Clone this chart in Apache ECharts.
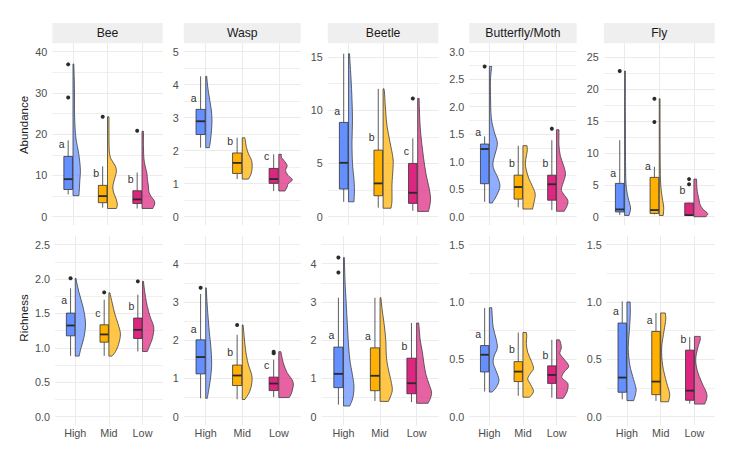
<!DOCTYPE html>
<html><head><meta charset="utf-8">
<script src="https://cdn.jsdelivr.net/npm/echarts@6/dist/echarts.min.js"></script>
<style>html,body{margin:0;padding:0;background:#fff}#c{width:749px;height:464px}</style>
</head><body><div id="c"></div>
<script>
const groups = ['High', 'Mid', 'Low'];
const taxa = ['Bee', 'Wasp', 'Beetle', 'Butterfly/Moth', 'Fly'];
const metrics = ['Abundance', 'Richness'];

// y scale limits (before ggplot's 5% expansion)
const abundanceLimits = [[0, 40], [0, 5], [0, 15.5], [0, 3], [0, 25.9]];
const richnessLimits = [[0, 2.5], [0, 4.5], [0, 4.5], [0, 1.5], [0, 1.5]];

const abundanceTicks = [
  ['0', '10', '20', '30', '40'],
  ['0', '1', '2', '3', '4', '5'],
  ['0', '5', '10', '15'],
  ['0.0', '0.5', '1.0', '1.5', '2.0', '2.5', '3.0'],
  ['0', '5', '10', '15', '20', '25']
];
const richnessTicks = [
  ['0.0', '0.5', '1.0', '1.5', '2.0', '2.5'],
  ['0', '1', '2', '3', '4'],
  ['0', '1', '2', '3', '4'],
  ['0.0', '0.5', '1.0', '1.5'],
  ['0.0', '0.5', '1.0', '1.5']
];

// box stats: [lower whisker, Q1, median, Q3, upper whisker] for High, Mid, Low
const abundanceBoxes = [
  [[5.4, 6.6, 9.1, 14.6, 18.5], [2.2, 3.4, 5.0, 7.6, 12.2], [2.0, 3.2, 4.2, 6.3, 10.7]],
  [[2.09, 2.49, 2.89, 3.25, 4.25], [1.14, 1.31, 1.63, 1.93, 2.39], [0.78, 1.01, 1.14, 1.46, 1.89]],
  [[1.4, 2.6, 5.06, 8.85, 15.3], [0.85, 1.97, 3.13, 6.25, 12.0], [0.56, 1.25, 2.25, 5.0, 7.35]],
  [[0.27, 0.60, 1.23, 1.32, 1.46], [0.17, 0.32, 0.54, 0.755, 1.29], [0.12, 0.30, 0.59, 0.755, 1.39]],
  [[0.27, 0.75, 1.15, 5.23, 12.0], [0.37, 0.52, 1.05, 6.17, 7.85], [0.2, 0.2, 0.25, 2.15, 2.2]]
];
const richnessBoxes = [
  [[0.884, 1.175, 1.325, 1.505, 1.865], [0.884, 1.083, 1.195, 1.335, 1.70], [0.947, 1.136, 1.262, 1.433, 1.772]],
  [[0.48, 1.12, 1.56, 2.01, 3.21], [0.456, 0.815, 1.077, 1.35, 2.14], [0.51, 0.683, 0.867, 1.035, 1.49]],
  [[0.315, 0.76, 1.12, 1.82, 3.11], [0.41, 0.68, 1.07, 1.80, 3.11], [0.38, 0.60, 0.875, 1.53, 2.45]],
  [[0.219, 0.39, 0.54, 0.62, 0.947], [0.183, 0.306, 0.393, 0.48, 0.734], [0.166, 0.29, 0.364, 0.443, 0.67]],
  [[0.152, 0.213, 0.341, 0.816, 1.005], [0.137, 0.192, 0.306, 0.743, 0.904], [0.114, 0.143, 0.227, 0.58, 0.694]]
];

const abundanceOutliers = [
  [[36.9, 28.9], [24.2], [20.8]],
  [[], [], []],
  [[], [], [11.1]],
  [[2.73], [], [1.60]],
  [[22.85], [18.5, 14.85], [5.9, 5.1]]
];
const richnessOutliers = [
  [[2.01], [1.806], [1.966]],
  [[3.37], [2.40], [1.66, 1.70]],
  [[4.16, 3.77], [], []],
  [[], [], []],
  [[], [], []]
];

// significance letters: [letter, y]
const abundanceLetters = [
  [['a', 17.5], ['b', 10.5], ['b', 9.1]],
  [['a', 3.6], ['b', 2.28], ['c', 1.83]],
  [['a', 9.9], ['b', 7.5], ['c', 6.2]],
  [['a', 1.53], ['b', 0.98], ['b', 0.98]],
  [['a', 6.9], ['a', 8.0], ['b', 4.2]]
];
const richnessLetters = [
  [['a', 1.69], ['c', 1.505], ['b', 1.61]],
  [['a', 2.3], ['b', 1.69], ['c', 1.36]],
  [['a', 2.14], ['a', 2.10], ['b', 1.86]],
  [['a', 0.72], ['b', 0.59], ['b', 0.54]],
  [['a', 0.92], ['a', 0.845], ['b', 0.68]]
];

// half-violin density profiles: [y, relative density]
const abundanceViolins = [
  [
    [[5.1, 6], [7, 6.5], [9, 7], [11, 7.5], [13, 7], [15, 6], [17, 4.5], [19, 3], [22, 2], [26, 1.5], [30, 1.5], [34, 1.2], [37, 0.8]],
    [[2.0, 9], [3, 10], [4.5, 8.5], [6, 6], [7.5, 5.5], [9, 7], [11, 9], [12.5, 7.5], [14, 3.5], [16, 1.8], [20, 1.5], [24.2, 1.5]],
    [[2.0, 11], [3.5, 13], [5, 9], [6, 7], [7.5, 6.5], [9, 5.5], [10.5, 5], [12, 3.5], [14, 2], [17, 1.5], [20.7, 1.5]]
  ],
  [
    [[2.09, 3.5], [2.3, 4.5], [2.6, 5.5], [2.9, 6], [3.2, 5.5], [3.5, 4], [3.8, 2.5], [4.05, 1.5], [4.25, 1]],
    [[1.14, 6], [1.3, 8.5], [1.5, 9.5], [1.7, 9], [1.9, 6], [2.1, 4], [2.3, 3], [2.39, 2.5]],
    [[0.78, 6], [0.9, 8], [1.0, 9], [1.12, 13], [1.25, 9], [1.4, 6.5], [1.55, 8], [1.7, 5], [1.8, 2.5], [1.89, 2.5]]
  ],
  [
    [[1.4, 5.5], [2.5, 6], [3.5, 5.5], [5, 4], [7, 3.5], [9, 4], [11, 3.5], [13, 2.5], [14.5, 1.5], [15.3, 1]],
    [[0.8, 8], [1.5, 9], [3, 9], [4.5, 10], [5.5, 10], [7, 7], [8.5, 4], [10, 2.5], [11.5, 1.5], [12, 1]],
    [[0.5, 11], [1.5, 13], [2.5, 12], [4, 8.5], [5.5, 6], [7, 4], [8.5, 2.5], [10, 1.8], [11.1, 1.5]]
  ],
  [
    [[0.25, 3], [0.4, 8], [0.55, 11], [0.7, 9], [0.9, 4], [1.05, 4.5], [1.2, 7], [1.35, 8.3], [1.55, 5], [1.8, 2], [2.2, 1.2], [2.5, 1.2], [2.73, 2.5]],
    [[0.14, 10], [0.3, 12], [0.42, 12.7], [0.55, 10], [0.7, 6], [0.85, 3.5], [0.97, 2.5], [1.1, 3.5], [1.2, 4.5], [1.29, 4.3]],
    [[0.1, 8], [0.2, 11], [0.3, 11.7], [0.42, 7], [0.5, 5], [0.62, 7], [0.78, 9.3], [0.95, 7], [1.1, 4], [1.3, 2.5], [1.45, 2.5], [1.58, 2.5]]
  ],
  [
    [[0.2, 4.5], [1.4, 6], [3, 3.5], [5, 1.5], [8, 1], [15, 0.8], [22.85, 0.8]],
    [[0.2, 4], [1.5, 4.5], [3, 3], [5, 1.5], [8, 1], [14, 0.8], [18.5, 0.8]],
    [[0, 12], [0.5, 14], [1.2, 9], [2, 6], [2.6, 5.3], [3.5, 4], [4.5, 3], [5.9, 2.7]]
  ]
];
const richnessViolins = [
  [
    [[0.88, 4], [1.0, 6], [1.15, 9], [1.33, 10.7], [1.5, 9.5], [1.65, 7], [1.8, 4], [1.95, 1.5], [2.01, 0.8]],
    [[0.88, 3.3], [0.95, 7], [1.05, 10], [1.2, 12], [1.35, 9.5], [1.5, 6], [1.65, 3.5], [1.8, 1]],
    [[0.947, 5], [1.05, 8], [1.15, 10.5], [1.3, 11.7], [1.45, 8], [1.6, 5], [1.75, 3], [1.9, 1.5], [1.966, 1]]
  ],
  [
    [[0.48, 1.5], [0.8, 3.5], [1.1, 5], [1.4, 5.7], [1.8, 5], [2.2, 3.5], [2.7, 2], [3.1, 1], [3.37, 0.5]],
    [[0.45, 2.5], [0.65, 7], [0.9, 9.3], [1.1, 9], [1.35, 6], [1.6, 4], [1.9, 2.5], [2.2, 1.5], [2.4, 0.8]],
    [[0.5, 10], [0.6, 12], [0.75, 13.5], [0.87, 14], [1.0, 12], [1.15, 8], [1.35, 5], [1.5, 3.5], [1.7, 2]]
  ],
  [
    [[0.28, 6], [0.5, 9], [0.8, 10], [1.1, 8.5], [1.5, 6], [2.0, 4.5], [2.5, 3.5], [3.0, 2.5], [3.5, 1.5], [4.16, 0.8]],
    [[0.4, 8], [0.6, 11], [0.75, 11.7], [1.0, 10], [1.3, 7.5], [1.6, 6], [2.0, 5.5], [2.4, 4], [2.8, 2], [3.11, 0.8]],
    [[0.35, 11], [0.5, 13.5], [0.65, 14.3], [0.85, 12], [1.1, 9], [1.4, 7], [1.7, 5.5], [2.0, 3.5], [2.3, 2.5], [2.45, 2]]
  ],
  [
    [[0.215, 3], [0.26, 7.5], [0.32, 10], [0.4, 7], [0.47, 4], [0.53, 5], [0.6, 8.3], [0.68, 7], [0.78, 4], [0.88, 3], [0.95, 2.5]],
    [[0.17, 7], [0.22, 11], [0.28, 8], [0.33, 5], [0.38, 8], [0.42, 11], [0.48, 9], [0.56, 5], [0.64, 3.5], [0.7, 4], [0.734, 3.5]],
    [[0.16, 7], [0.22, 11], [0.29, 11.7], [0.34, 5.5], [0.39, 8], [0.44, 12.7], [0.5, 8], [0.55, 3.5], [0.6, 5], [0.65, 4], [0.67, 3]]
  ],
  [
    [[0.14, 7], [0.2, 9], [0.25, 9.3], [0.35, 6], [0.45, 3], [0.6, 1.3], [0.75, 2.5], [0.9, 3.5], [1.0, 3.3]],
    [[0.13, 8], [0.2, 9.3], [0.3, 6], [0.45, 2], [0.6, 1], [0.75, 3.5], [0.85, 5.3], [0.904, 4.7]],
    [[0.11, 10.7], [0.19, 13], [0.3, 7.5], [0.4, 3], [0.5, 1.3], [0.6, 3.5], [0.67, 6], [0.70, 6]]
  ]
];

// ---------- drawing ----------
const FONT = '"Liberation Sans", Arial, sans-serif';
const boxColors = ['#648FFF', '#FFB000', '#DC267F'];
const violinColors = ['rgba(100,143,255,0.72)', 'rgba(255,176,0,0.72)', 'rgba(220,38,127,0.72)'];
const VSCALE = 1 / 35, BOX_CENTER = -0.14, BOX_HALF = 0.125, LETTER_OFFSET = -0.33;

const rows = [
  { limits: abundanceLimits, ticks: abundanceTicks, boxes: abundanceBoxes, outliers: abundanceOutliers, letters: abundanceLetters, violins: abundanceViolins,
    top: 43.3, height: 181.7, layout: [[52.3, 110.4], [183.8, 116.9], [327.8, 110.6], [469.2, 107.5], [603.8, 110.9]] },
  { limits: richnessLimits, ticks: richnessTicks, boxes: richnessBoxes, outliers: richnessOutliers, letters: richnessLetters, violins: richnessViolins,
    top: 236, height: 189.3, layout: [[55.1, 107.6], [183.8, 116.9], [321.6, 116.9], [469.2, 107.5], [606.7, 108]] }
];

function violinPath(api, cat, prof) {
  const pts = prof.map(p => api.coord([cat + p[1] * VSCALE, p[0]]));
  const b = api.coord([cat, prof[0][0]]), t = api.coord([cat, prof[prof.length - 1][0]]);
  let s = 'M' + b[0] + ',' + b[1] + 'L' + pts[0][0] + ',' + pts[0][1];
  for (let i = 0; i < pts.length - 1; i++) {
    const p0 = pts[i - 1] || pts[i], p1 = pts[i], p2 = pts[i + 1], p3 = pts[i + 2] || pts[i + 1];
    const c1 = [p1[0] + (p2[0] - p0[0]) / 6, p1[1] + (p2[1] - p0[1]) / 6];
    const c2 = [p2[0] - (p3[0] - p1[0]) / 6, p2[1] - (p3[1] - p1[1]) / 6];
    s += 'C' + c1[0] + ',' + c1[1] + ' ' + c2[0] + ',' + c2[1] + ' ' + p2[0] + ',' + p2[1];
  }
  s += 'L' + t[0] + ',' + t[1] + 'Z';
  return s;
}

function renderGroup(row, col, gi, api) {
  const cat = gi + 1;
  const st = row.boxes[col][gi];
  const cx = cat + BOX_CENTER;
  const children = [];
  children.push({ type: 'path', shape: { pathData: violinPath(api, cat, row.violins[col][gi]) },
    style: { fill: violinColors[gi], stroke: '#3d3d3d', lineWidth: 0.8 } });
  const w0 = api.coord([cx, st[0]]), q1 = api.coord([cx, st[1]]), q3 = api.coord([cx, st[3]]), w1 = api.coord([cx, st[4]]);
  children.push({ type: 'line', shape: { x1: w0[0], y1: w0[1], x2: q1[0], y2: q1[1] }, style: { stroke: '#333', lineWidth: 0.8 } });
  children.push({ type: 'line', shape: { x1: q3[0], y1: q3[1], x2: w1[0], y2: w1[1] }, style: { stroke: '#333', lineWidth: 0.8 } });
  const bl = api.coord([cx - BOX_HALF, st[3]]), br = api.coord([cx + BOX_HALF, st[1]]);
  children.push({ type: 'rect', shape: { x: bl[0], y: bl[1], width: br[0] - bl[0], height: br[1] - bl[1] },
    style: { fill: boxColors[gi], stroke: '#333', lineWidth: 0.8 } });
  const ml = api.coord([cx - BOX_HALF, st[2]]), mr = api.coord([cx + BOX_HALF, st[2]]);
  children.push({ type: 'line', shape: { x1: ml[0], y1: ml[1], x2: mr[0], y2: mr[1] }, style: { stroke: '#2a2a2a', lineWidth: 1.8 } });
  row.outliers[col][gi].forEach(v => {
    const p = api.coord([cx, v]);
    children.push({ type: 'circle', shape: { cx: p[0], cy: p[1], r: 2 }, style: { fill: '#2b2b2b' } });
  });
  const L = row.letters[col][gi];
  const lp = api.coord([cat + LETTER_OFFSET, L[1]]);
  children.push({ type: 'text', x: lp[0], y: lp[1], style: { text: L[0], fill: '#333', fontSize: 10.5, fontFamily: FONT, align: 'center', verticalAlign: 'middle' } });
  return { type: 'group', children };
}

const grid = [], xAxis = [], yAxis = [], series = [], graphic = [];
rows.forEach((row, r) => {
  taxa.forEach((taxon, c) => {
    const g = r * 5 + c;
    const [left, width] = row.layout[c];
    const [lo0, hi0] = row.limits[c];
    const pad = (hi0 - lo0) * 0.05;
    const lo = lo0 - pad, hi = hi0 + pad;
    const labels = row.ticks[c];
    const majors = labels.map(Number);
    const step = majors[1] - majors[0];
    const minors = [];
    if (majors[0] - step / 2 >= lo) minors.push(majors[0] - step / 2);
    for (let i = 0; i < majors.length - 1; i++) minors.push((majors[i] + majors[i + 1]) / 2);
    if (majors[majors.length - 1] + step / 2 <= hi) minors.push(majors[majors.length - 1] + step / 2);

    grid.push({ left, top: row.top, width, height: row.height });
    xAxis.push({
      type: 'value', gridIndex: g, min: 0.4, max: 3.6,
      axisLine: { show: false },
      axisTick: { show: false, customValues: [1, 2, 3] },
      axisLabel: { show: r === 1, customValues: [1, 2, 3], formatter: v => groups[Math.round(v) - 1],
        color: '#4d4d4d', fontSize: 10.8, fontFamily: FONT, margin: 2 },
      splitLine: { show: true, lineStyle: { color: '#EBEBEB', width: 1 } }
    });
    yAxis.push({
      type: 'value', gridIndex: g, min: lo, max: hi,
      axisLine: { show: false },
      axisTick: { show: false, customValues: majors },
      axisLabel: { customValues: majors, formatter: v => { const i = majors.findIndex(m => Math.abs(m - v) < 1e-9); return i >= 0 ? labels[i] : ''; },
        color: '#4d4d4d', fontSize: 10.8, fontFamily: FONT, margin: 5 },
      splitLine: { show: true, lineStyle: { color: '#EBEBEB', width: 1 } }
    });
    yAxis.push({
      type: 'value', gridIndex: g, min: lo, max: hi, position: 'left',
      axisLine: { show: false },
      axisTick: { show: false, customValues: minors },
      axisLabel: { show: false, customValues: minors },
      splitLine: { show: true, lineStyle: { color: '#EFEFEF', width: 1 } }
    });
    series.push({
      type: 'custom', xAxisIndex: g, yAxisIndex: 2 * g,
      data: [[1, lo], [2, lo], [3, lo]],
      encode: { x: 0, y: 1 },
      clip: false,
      renderItem: (params, api) => renderGroup(row, c, params.dataIndex, api)
    });
    if (r === 0) {
      graphic.push({ type: 'rect', shape: { x: left, y: 23, width, height: 20.3 }, style: { fill: '#EFEFEF' }, silent: true });
      graphic.push({ type: 'text', x: left + width / 2, y: 33.3, style: { text: taxon, fill: '#1a1a1a', fontSize: 12.2, fontFamily: FONT, align: 'center', verticalAlign: 'middle' } });
    }
  });
});
graphic.push({ type: 'text', x: 24.3, y: 125, rotation: Math.PI / 2, style: { text: metrics[0], fill: '#1a1a1a', fontSize: 11.5, fontFamily: FONT, align: 'center', verticalAlign: 'middle' } });
graphic.push({ type: 'text', x: 24.3, y: 318, rotation: Math.PI / 2, style: { text: metrics[1], fill: '#1a1a1a', fontSize: 11.5, fontFamily: FONT, align: 'center', verticalAlign: 'middle' } });

const chart = echarts.init(document.getElementById('c'), null, { renderer: 'svg' });
chart.setOption({ animation: false, backgroundColor: '#fff', grid, xAxis, yAxis, series, graphic });
</script></body></html>
